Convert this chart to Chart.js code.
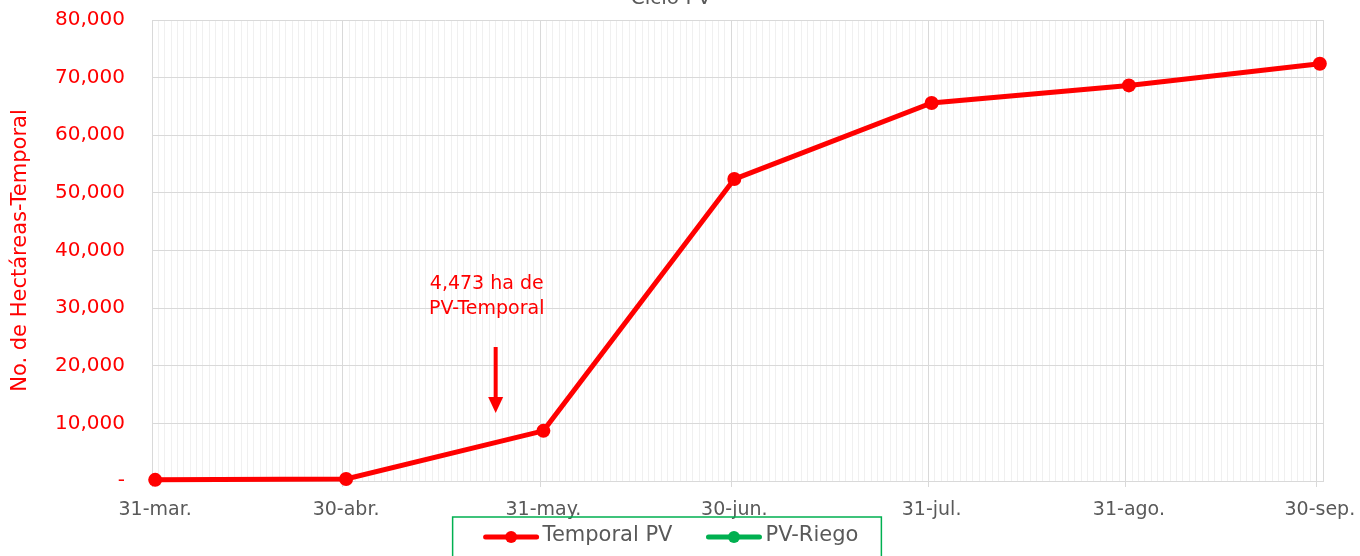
<!DOCTYPE html>
<html>
<head>
<meta charset="utf-8">
<script src="https://cdn.jsdelivr.net/npm/chart.js@4"></script>
<style>
  html, body { margin: 0; padding: 0; background: #fff; }
  #wrap { width: 1360px; height: 556px; }
</style>
</head>
<body>
<div id="wrap"><canvas id="ciclo"></canvas></div>
<script>
// datos
const fechas = ['2023-03-31', '2023-04-30', '2023-05-31', '2023-06-30', '2023-07-31', '2023-08-31', '2023-09-30'];
const etiquetas = ['31-mar.', '30-abr.', '31-may.', '30-jun.', '31-jul.', '31-ago.', '30-sep.'];
const temporalPV = [200, 350, 8700, 52400, 65600, 68650, 72400];
const riegoPV = [];
const yMax = 80000;
const yPaso = 10000;
const nota = ['4,473 ha de', 'PV-Temporal'];

const FUENTE = "'DejaVu Sans', sans-serif";
const ROJO = '#ff0000';
const VERDE = '#00b050';
const GRIS = '#595959';

// dias desde la primera fecha
const dia0 = Date.parse(fechas[0]);
const dias = fechas.map(f => Math.round((Date.parse(f) - dia0) / 86400000));
const totalDias = dias[dias.length - 1] + 1;

const tituloYLeyenda = {
  id: 'tituloYLeyenda',
  afterDraw(chart) {
    const ctx = chart.ctx;
    const x = chart.scales.x, y = chart.scales.y;
    const cx = 671;
    ctx.save();

    // titulo (cortado arriba)
    ctx.fillStyle = GRIS;
    ctx.font = '20px ' + FUENTE;
    ctx.textAlign = 'center';
    ctx.textBaseline = 'alphabetic';
    ctx.fillText('Ciclo PV', cx, 4);

    // nota con flecha
    ctx.fillStyle = ROJO;
    ctx.font = '19px ' + FUENTE;
    ctx.textBaseline = 'middle';
    ctx.fillText(nota[0], x.getPixelForValue(52.6), y.getPixelForValue(34200));
    ctx.fillText(nota[1], x.getPixelForValue(52.6), y.getPixelForValue(29850));
    const ax = x.getPixelForValue(54);
    const aTop = y.getPixelForValue(23250);
    const aTip = y.getPixelForValue(11800);
    ctx.strokeStyle = ROJO;
    ctx.lineWidth = 4;
    ctx.beginPath();
    ctx.moveTo(ax, aTop);
    ctx.lineTo(ax, aTip - 12);
    ctx.stroke();
    ctx.beginPath();
    ctx.moveTo(ax - 7.5, aTip - 16);
    ctx.lineTo(ax + 7.5, aTip - 16);
    ctx.lineTo(ax, aTip);
    ctx.closePath();
    ctx.fill();

    // leyenda
    ctx.font = '21px ' + FUENTE;
    ctx.textAlign = 'left';
    const sets = chart.data.datasets;
    const anchoMarca = 55, hueco = 4, entre = 34;
    let total = 0;
    sets.forEach((d, i) => {
      total += anchoMarca + hueco + ctx.measureText(d.label).width;
      if (i > 0) total += entre;
    });
    let lx = cx - total / 2;
    const ly = 537;
    ctx.strokeStyle = VERDE;
    ctx.lineWidth = 1.5;
    ctx.strokeRect(lx - 31, 517, total + 54, 50);
    sets.forEach(d => {
      ctx.strokeStyle = d.borderColor;
      ctx.fillStyle = d.borderColor;
      ctx.lineWidth = 5;
      ctx.lineCap = 'round';
      ctx.beginPath();
      ctx.moveTo(lx + 2, ly);
      ctx.lineTo(lx + anchoMarca - 2, ly);
      ctx.stroke();
      ctx.beginPath();
      ctx.arc(lx + anchoMarca / 2, ly, 6, 0, Math.PI * 2);
      ctx.fill();
      lx += anchoMarca + hueco;
      ctx.fillStyle = GRIS;
      ctx.fillText(d.label, lx, ly - 1);
      lx += ctx.measureText(d.label).width + entre;
    });
    ctx.restore();
  }
};

new Chart(document.getElementById('ciclo'), {
  type: 'line',
  data: {
    datasets: [
      {
        label: 'Temporal PV',
        data: temporalPV.map((v, i) => ({ x: dias[i] + 0.5, y: v })),
        borderColor: ROJO,
        backgroundColor: ROJO,
        borderWidth: 5,
        pointRadius: 7,
        pointHoverRadius: 7,
        pointBorderWidth: 0,
        pointBackgroundColor: ROJO,
        clip: false,
      },
      {
        label: 'PV-Riego',
        data: riegoPV.map((v, i) => ({ x: dias[i] + 0.5, y: v })),
        borderColor: VERDE,
        backgroundColor: VERDE,
        borderWidth: 5,
        pointRadius: 7,
        pointBorderWidth: 0,
      },
    ],
  },
  options: {
    responsive: true,
    maintainAspectRatio: false,
    animation: false,
    layout: {
      padding: { left: 0, right: 37, top: 20, bottom: 35 },
    },
    plugins: {
      legend: { display: false },
      title: { display: false },
      tooltip: { enabled: false },
    },
    scales: {
      x: {
        type: 'linear',
        min: 0,
        max: totalDias,
        afterBuildTicks(scale) {
          const t = [];
          for (let d = 0; d < totalDias; d++) t.push({ value: d + 0.5 });
          scale.ticks = t;
        },
        afterFit(scale) {
          scale.height = 40;
          scale.paddingLeft = 0;
          scale.paddingRight = 0;
        },
        grid: {
          offset: true,
          lineWidth: 1,
          tickLength: 6,
          color: ctx => (ctx.type !== 'tick' || dias.includes(ctx.index)) ? '#d9d9d9' : '#f0f0f0',
          tickColor: ctx => (ctx.type === 'tick' && dias.includes(ctx.index)) ? '#d9d9d9' : 'rgba(0,0,0,0)',
        },
        border: { color: '#d9d9d9' },
        ticks: {
          autoSkip: false,
          maxRotation: 0,
          padding: 12,
          color: GRIS,
          font: { family: FUENTE, size: 19 },
          callback: value => {
            const k = dias.indexOf(Math.floor(value));
            return k >= 0 ? etiquetas[k] : '';
          },
        },
      },
      y: {
        min: 0,
        max: yMax,
        afterFit(scale) {
          scale.width = 152;
          scale.paddingTop = 0;
          scale.paddingBottom = 0;
        },
        grid: { color: '#d9d9d9', drawTicks: false },
        border: { color: '#d9d9d9' },
        ticks: {
          stepSize: yPaso,
          padding: 27,
          color: ROJO,
          font: { family: FUENTE, size: 20 },
          callback: v => v === 0 ? '-' : v.toLocaleString('en-US'),
        },
        title: {
          display: true,
          text: 'No. de Hectáreas-Temporal',
          color: ROJO,
          font: { family: FUENTE, size: 21 },
          padding: { top: 8, bottom: 0 },
        },
      },
    },
  },
  plugins: [tituloYLeyenda],
});
</script>
</body>
</html>
